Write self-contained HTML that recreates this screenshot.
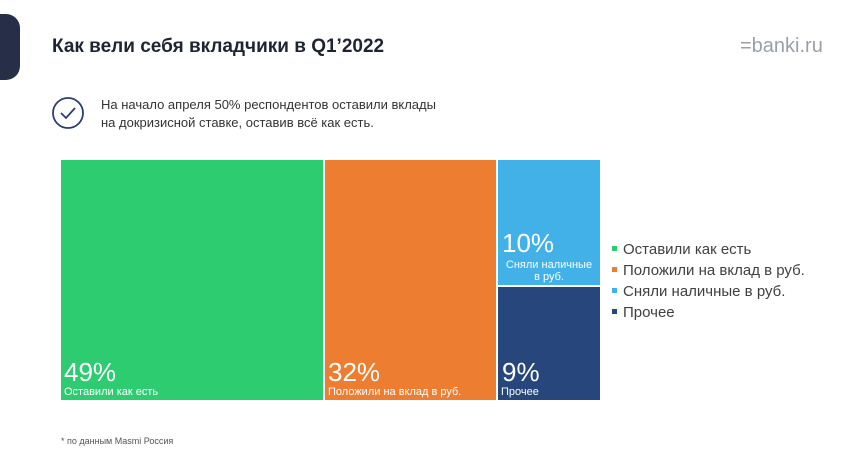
<!DOCTYPE html>
<html><head><meta charset="utf-8"><style>
body{margin:0;width:860px;height:471px;background:#fff;position:relative;overflow:hidden;font-family:"Liberation Sans","DejaVu Sans",sans-serif}
.a{position:absolute}
.b{position:absolute;color:#fff}
.pct{font-size:26px;line-height:25px}
.lb{font-size:11px;line-height:12px}
.lg{position:absolute;left:612px;font-size:15px;color:#404040}
.lg i{display:inline-block;width:5px;height:5px;margin-right:6px;vertical-align:3px}
</style></head><body>
<div class="a" style="left:-20px;top:14px;width:40px;height:66px;background:#262f47;border-radius:0 14px 14px 0"></div>
<div class="a" style="left:52px;top:36px;font-size:19px;font-weight:bold;color:#1f2433">Как вели себя вкладчики в Q1’2022</div>
<div class="a" style="left:740px;top:35px;font-size:20px;color:#9aa0a8">=banki.ru</div>
<svg class="a" style="left:51px;top:96px" width="34" height="34"><circle cx="17" cy="17" r="15" fill="none" stroke="#2c3e6b" stroke-width="1.8"/><path d="M10 17l5 5 9-10" fill="none" stroke="#2c3e6b" stroke-width="1.8"/></svg>
<div class="a" style="left:101px;top:96px;font-size:13px;line-height:18px;color:#333">На начало апреля 50% респондентов оставили вклады<br>на докризисной ставке, оставив всё как есть.</div>
<div class="a" style="left:61px;top:160px;width:262px;height:240px;background:#2ecc71"></div>
<div class="a" style="left:325px;top:160px;width:171px;height:240px;background:#ed7d31"></div>
<div class="a" style="left:498px;top:160px;width:102px;height:125px;background:#41b1e8"></div>
<div class="a" style="left:498px;top:287px;width:102px;height:113px;background:#26467c"></div>
<div class="b pct" style="left:64px;top:360px">49%</div>
<div class="b lb" style="left:64px;top:386px">Оставили как есть</div>
<div class="b pct" style="left:328px;top:360px">32%</div>
<div class="b lb" style="left:328px;top:386px">Положили на вклад в руб.</div>
<div class="b pct" style="left:502px;top:231px">10%</div>
<div class="b lb" style="left:498px;width:102px;text-align:center;top:259px">Сняли наличные<br>в руб.</div>
<div class="b pct" style="left:502px;top:360px">9%</div>
<div class="b lb" style="left:501px;top:386px">Прочее</div>
<div class="lg" style="top:241px"><i style="background:#2ecc71"></i>Оставили как есть</div>
<div class="lg" style="top:262px"><i style="background:#ed7d31"></i>Положили на вклад в руб.</div>
<div class="lg" style="top:283px"><i style="background:#41b1e8"></i>Сняли наличные в руб.</div>
<div class="lg" style="top:304px"><i style="background:#26467c"></i>Прочее</div>
<div class="a" style="left:61px;top:436px;font-size:9px;color:#555">* по данным Masmi Россия</div>
</body></html>
